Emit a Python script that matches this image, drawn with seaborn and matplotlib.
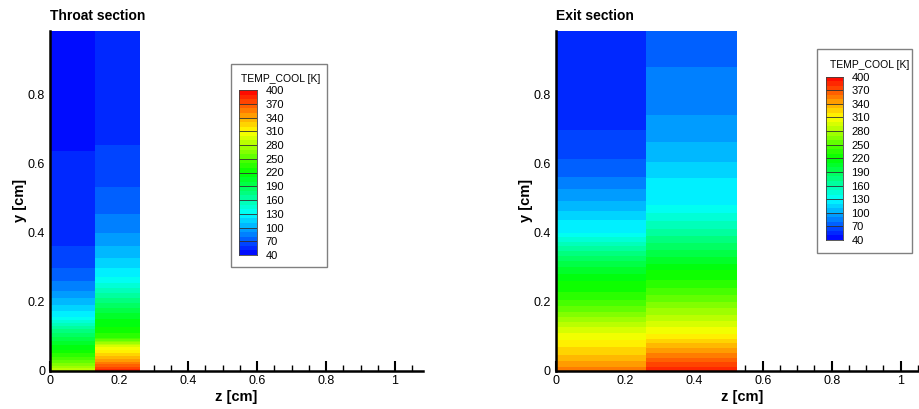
import numpy as np
import matplotlib
matplotlib.use("Agg")
import matplotlib.pyplot as plt
import seaborn as sns
from matplotlib.colors import LinearSegmentedColormap, Normalize
from matplotlib.ticker import MultipleLocator, FuncFormatter
from matplotlib.patches import Rectangle

# Contour levels of the coolant temperature [K] and the labelled legend levels
levels = np.arange(40, 401, 10)
legend_levels = np.arange(40, 401, 30)

# Cooling-channel geometry [cm]
throat_z_edges = [0.0, 0.13, 0.26]
exit_z_edges = [0.0, 0.2625, 0.525]
channel_height = 0.985

# TEMP_COOL [K] profiles along y [cm] for each channel column
throat_inner_y = [0.0, 0.03, 0.06, 0.08, 0.12, 0.155, 0.172, 0.19, 0.21, 0.23, 0.258, 0.297, 0.36, 0.635, 0.985]
throat_inner_T = [288, 250, 220, 205, 170, 130, 120, 110, 100, 90, 80, 70, 60, 50, 45]

throat_outer_y = [0.0, 0.024, 0.053, 0.068, 0.095, 0.12, 0.16, 0.21, 0.27, 0.297, 0.326, 0.36, 0.40, 0.454, 0.531, 0.655, 0.985]
throat_outer_T = [385, 352, 318, 300, 240, 222, 205, 170, 130, 120, 110, 100, 90, 80, 70, 60, 57]

exit_inner_y = [0.0, 0.04, 0.085, 0.12, 0.17, 0.22, 0.26, 0.31, 0.36, 0.40, 0.435, 0.462, 0.49, 0.525, 0.562, 0.612, 0.698, 0.985]
exit_inner_T = [356, 332, 312, 295, 260, 232, 220, 195, 160, 130, 120, 110, 100, 90, 80, 70, 60, 55]

exit_outer_y = [0.0, 0.05, 0.107, 0.17, 0.25, 0.29, 0.33, 0.40, 0.481, 0.557, 0.604, 0.662, 0.740, 0.881, 0.985]
exit_outer_T = [388, 350, 310, 275, 235, 220, 200, 165, 130, 120, 110, 100, 90, 80, 75]

panels = [
    ("Throat section", throat_z_edges,
     [(throat_inner_y, throat_inner_T), (throat_outer_y, throat_outer_T)]),
    ("Exit section", exit_z_edges,
     [(exit_inner_y, exit_inner_T), (exit_outer_y, exit_outer_T)]),
]

sns.set_theme(style="ticks")
plt.rcParams["font.family"] = ["Liberation Sans", "DejaVu Sans"]
plt.rcParams.update({
    "text.color": "black", "axes.labelcolor": "black",
    "xtick.color": "black", "ytick.color": "black",
    "axes.edgecolor": "black",
})

cmap = LinearSegmentedColormap.from_list(
    "rainbow5", ["#0000ff", "#00ffff", "#00ff00", "#ffff00", "#ff0000"])
norm = Normalize(vmin=levels[0], vmax=levels[-1])

W, H = 919, 409
fig = plt.figure(figsize=(W / 100, H / 100), dpi=100)


def px_box(left, top, right, bottom):
    return [left / W, 1 - bottom / H, (right - left) / W, (bottom - top) / H]


x_max = 1.082
scale = 345.0
y0_px = 370.5
axes_left_px = [50.0, 555.7]

legend_boxes = [
    # box (l, t, r, b), bar (l, t, r, b), title left, title centre y
    ((231, 64, 327, 267), (239.5, 90, 257, 255), 241.5, 79),
    ((817, 49, 912, 253), (826, 76.5, 843, 240), 830.5, 64.5),
]

fmt = FuncFormatter(lambda v, _: f"{v:g}")

for (title, z_edges, columns), left_px, leg in zip(panels, axes_left_px, legend_boxes):
    ax = fig.add_axes(px_box(left_px, y0_px - channel_height * scale,
                             left_px + x_max * scale, y0_px))
    for i, (yv, tv) in enumerate(columns):
        X = np.array([z_edges[i], z_edges[i + 1]])
        Y = np.asarray(yv)
        Z = np.repeat(np.asarray(tv, dtype=float)[:, None], 2, axis=1)
        ax.contourf(X, Y, Z, levels=levels, cmap=cmap, norm=norm, antialiased=False)
    ax.set_xlim(0, x_max)
    ax.set_ylim(0, channel_height)
    sns.despine(ax=ax)
    for s in ("left", "bottom"):
        ax.spines[s].set_linewidth(1.8)
        ax.spines[s].set_zorder(5)
    ax.xaxis.set_major_locator(MultipleLocator(0.2))
    ax.yaxis.set_major_locator(MultipleLocator(0.2))
    ax.xaxis.set_minor_locator(MultipleLocator(0.05))
    ax.yaxis.set_minor_locator(MultipleLocator(0.05))
    ax.xaxis.set_major_formatter(fmt)
    ax.yaxis.set_major_formatter(fmt)
    ax.tick_params(which="major", direction="in", length=7, width=1.5, labelsize=9, pad=3.5)
    ax.tick_params(which="minor", direction="in", length=4, width=1.0)
    ax.set_xlabel("z [cm]", fontsize=10.5, fontweight="bold", labelpad=2)
    ax.set_ylabel("y [cm]", fontsize=10.5, fontweight="bold", labelpad=0.5)
    ax.set_title(title, loc="left", fontsize=10, fontweight="bold", pad=8)

    # Contour legend
    box, bar, title_x, title_y = leg
    fig.add_artist(Rectangle((box[0] / W, 1 - box[3] / H), (box[2] - box[0]) / W,
                             (box[3] - box[1]) / H, transform=fig.transFigure,
                             facecolor="white", edgecolor="#808080", linewidth=1.0,
                             zorder=2))
    fig.text(title_x / W, 1 - title_y / H, "TEMP_COOL [K]", fontsize=7.5,
             va="center", ha="left", zorder=4)
    cax = fig.add_axes(px_box(*bar), zorder=3)
    mids = ((levels[:-1] + levels[1:]) / 2)[::-1][:, None]
    sns.heatmap(mids, ax=cax, cmap=cmap, vmin=levels[0], vmax=levels[-1],
                cbar=False, xticklabels=False, yticklabels=False)
    n_bands = len(levels) - 1
    for lv in legend_levels[1:-1]:
        cax.axhline((levels[-1] - lv) / 10.0, color="#303030", lw=0.6)
    cax.yaxis.tick_right()
    cax.set_yticks([(levels[-1] - lv) / 10.0 for lv in legend_levels])
    cax.set_yticklabels([str(lv) for lv in legend_levels], rotation=0, fontsize=8)
    cax.tick_params(axis="y", length=0, pad=6)
    cax.set_ylim(n_bands, 0)
    for s in cax.spines.values():
        s.set_visible(True)
        s.set_linewidth(0.6)
        s.set_edgecolor("#404040")

fig.savefig("out.png", dpi=100)
